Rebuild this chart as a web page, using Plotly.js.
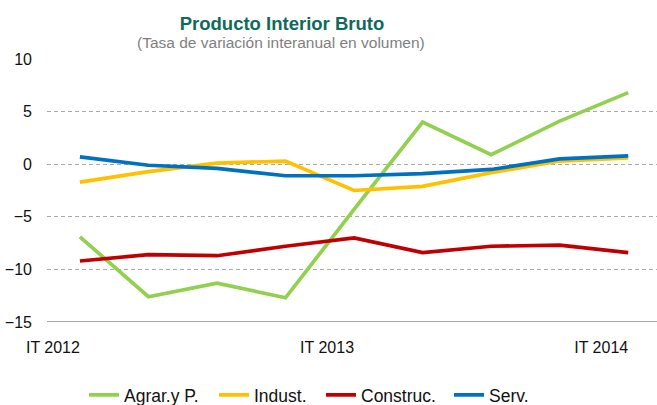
<!DOCTYPE html>
<html>
<head>
<meta charset="utf-8">
<script src="https://cdn.plot.ly/plotly-3.0.1.min.js"></script>
<style>html,body{margin:0;padding:0;background:#fff;}#chart{width:657px;height:405px;}</style>
</head>
<body>
<div id="chart"></div>
<script>
const quarters = ["IT 2012","IIT 2012","IIIT 2012","IVT 2012","IT 2013","IIT 2013","IIIT 2013","IVT 2013","IT 2014"];
const tickLabels = ["IT 2012","IT 2013","IT 2014"];
const agrar = [-6.9, -12.6, -11.3, -12.7, -4.3, 4.0, 0.9, 4.1, 6.8];
const indust = [-1.7, -0.7, 0.1, 0.3, -2.5, -2.1, -0.8, 0.3, 0.6];
const construc = [-9.2, -8.6, -8.7, -7.8, -7.0, -8.4, -7.8, -7.7, -8.4];
const serv = [0.7, -0.1, -0.4, -1.1, -1.1, -0.9, -0.5, 0.5, 0.8];
const seriesNames = ["Agrar.y P.", "Indust.", "Construc.", "Serv."];
const seriesColors = ["#92D050", "#FFC000", "#C00000", "#0070C0"];
const seriesData = [agrar, indust, construc, serv];

const font = "Liberation Sans, Arial, sans-serif";
const legendIds = ["legend", "legend2", "legend3", "legend4"];
const legendX = [84, 214, 321, 449];
const traces = seriesData.map((d, i) => ({
  type: "scatter", mode: "lines", x: quarters, y: d, name: seriesNames[i],
  legend: legendIds[i],
  line: {color: seriesColors[i], width: 3.7}
}));

const layout = {
  width: 657, height: 405,
  margin: {l: 47, r: 0, t: 59, b: 83},
  paper_bgcolor: "#fff", plot_bgcolor: "#fff",
  font: {family: font, size: 16, color: "#111"},
  showlegend: true,
  xaxis: {type: "category", range: [-0.48, 8.42], tickvals: tickLabels, ticktext: tickLabels,
          showgrid: false, zeroline: false, showline: false, ticks: "",
          ticklabelposition: "outside left", ticklabelstandoff: 14, tickfont: {size: 16, color: "#111"}},
  yaxis: {range: [-15, 10], tickvals: [-15, -10, -5, 0, 5, 10], showgrid: true, gridcolor: "#aaaaaa",
          griddash: "4px,3px", gridwidth: 1, zeroline: false, showline: false, ticks: "",
          ticklabelstandoff: 14, tickfont: {size: 16, color: "#111"}},
  shapes: [{type: "line", xref: "paper", yref: "y", x0: 0, x1: 1, y0: -15, y1: -15,
            line: {color: "#888", width: 1.5}}],
  title: {text: "Producto Interior Bruto", xref: "container", yref: "container",
          x: 282/657, xanchor: "center", y: 1 - 24/405, yanchor: "middle",
          font: {family: font, size: 18.5, color: "#0E6B5C", weight: "bold"}},
  annotations: [{text: "(Tasa de variación interanual en volumen)", xref: "paper", yref: "paper",
                 x: (281-47)/610, y: 1 + (59-42)/263, xanchor: "center", yanchor: "middle", showarrow: false,
                 font: {family: font, size: 15.5, color: "#7f7f7f"}}]
};
legendIds.forEach((id, i) => {
  layout[id] = {orientation: "h", xref: "container", yref: "container", x: legendX[i]/657, xanchor: "left",
                y: 10/405, yanchor: "middle", font: {size: 17.5, color: "#111"}, bgcolor: "rgba(0,0,0,0)"};
});
Plotly.newPlot("chart", traces, layout, {displayModeBar: false, staticPlot: true});
</script>
</body>
</html>
